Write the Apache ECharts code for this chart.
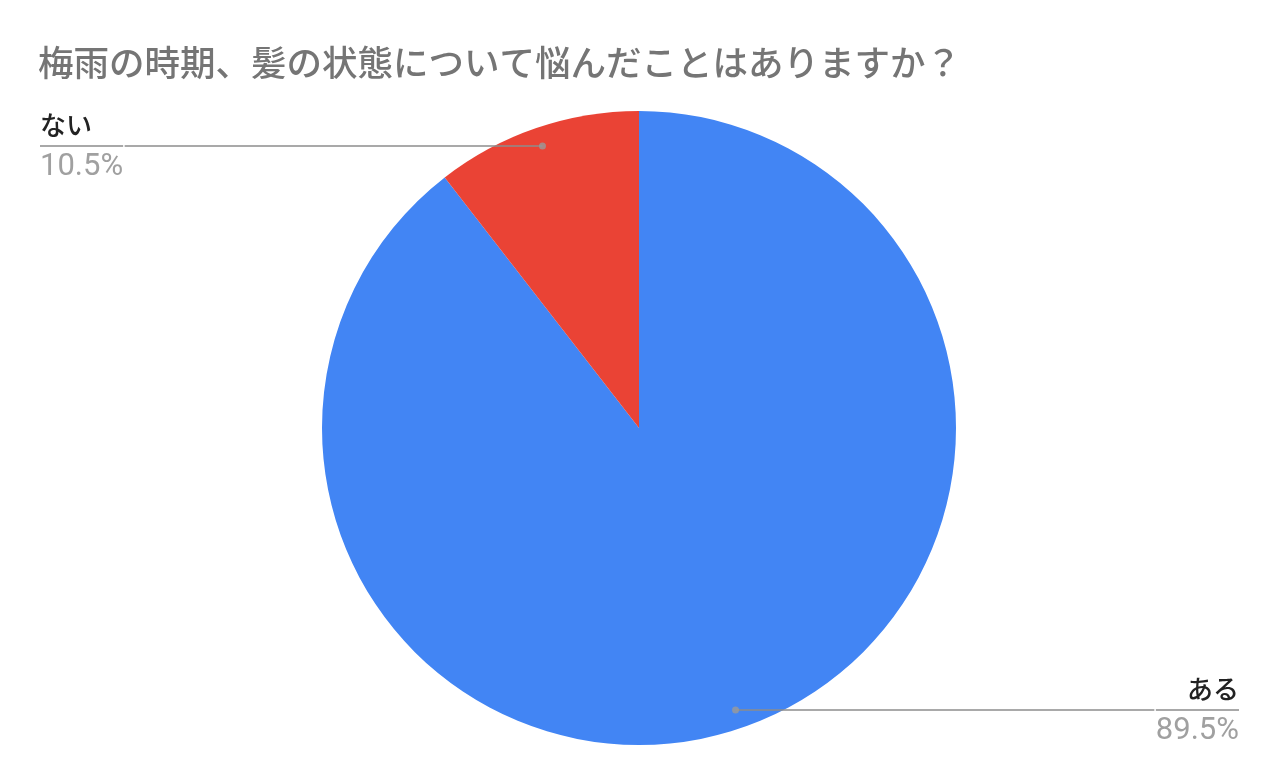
<!DOCTYPE html>
<html>
<head>
<meta charset="utf-8">
<script src="https://cdn.jsdelivr.net/npm/echarts@6/dist/echarts.min.js"></script>
<style>
  html, body { margin: 0; padding: 0; background: #fff; }
  #pie { width: 1279px; height: 784px; }
</style>
</head>
<body>
<div id="pie"></div>
<script>
// answers and their share (%)
const categories = ['ある', 'ない'];
const shares = [89.5, 10.5];
const sliceColors = ['#4285f4', '#ea4335'];

var chartDom = document.getElementById('pie');
var myChart = echarts.init(chartDom);
var option;

const pieCenter = [639, 428];
const pieRadius = 317;
const lineStart = 298; // leader lines start a bit inside the slice

const pieData = categories.map(function (name, i) {
  return { name: name, value: shares[i], itemStyle: { color: sliceColors[i] } };
});

// middle of each slice, in percent of the circle, for the little dots
const total = shares.reduce(function (a, b) { return a + b; }, 0);
let acc = 0;
const dotData = shares.map(function (v) {
  const mid = (acc + v / 2) / total * 100;
  acc += v;
  return [lineStart / pieRadius, mid];
});

option = {
  title: {
    text: '梅雨の時期、髪の状態について悩んだことはありますか？',
    left: 33,
    top: 40,
    textStyle: {
      fontFamily: 'Noto Sans CJK JP',
      fontSize: 35.5,
      fontWeight: 500,
      color: '#757575'
    }
  },
  polar: {
    center: pieCenter,
    radius: pieRadius
  },
  angleAxis: {
    type: 'value',
    min: 0,
    max: 100,
    startAngle: 90,
    clockwise: true,
    show: false
  },
  radiusAxis: {
    type: 'value',
    min: 0,
    max: 1,
    show: false
  },
  series: [
    {
      name: 'slices',
      type: 'pie',
      center: pieCenter,
      radius: pieRadius,
      startAngle: 90,
      silent: true,
      label: { show: false },
      labelLine: { show: false },
      data: pieData
    },
    {
      name: 'labels',
      type: 'pie',
      center: pieCenter,
      radius: lineStart,
      startAngle: 90,
      silent: true,
      z: 3,
      itemStyle: { color: 'rgba(0,0,0,0)' },
      label: {
        show: true,
        position: 'outside',
        alignTo: 'edge',
        edgeDistance: 40,
        distanceToLabelLine: 0,
        formatter: function (p) {
          return '{name|' + p.name + '}\n{hr|}\n{per|' + p.value + '%}';
        },
        rich: {
          name: {
            fontFamily: 'Noto Sans CJK JP',
            fontSize: 26,
            fontWeight: 500,
            color: '#222222',
            lineHeight: 42
          },
          hr: {
            width: '100%',
            height: 0,
            borderColor: '#8c8c8c',
            borderWidth: 1.5
          },
          per: {
            fontFamily: 'Roboto',
            fontSize: 31,
            color: '#a0a0a0',
            lineHeight: 42
          }
        }
      },
      labelLine: {
        show: true,
        length: 0,
        length2: 20,
        lineStyle: { color: '#8c8c8c', width: 1.5 }
      },
      data: pieData.map(function (d) {
        return { name: d.name, value: d.value };
      })
    },
    {
      name: 'dots',
      type: 'scatter',
      coordinateSystem: 'polar',
      symbolSize: 7,
      silent: true,
      z: 4,
      itemStyle: { color: '#9a9a9a' },
      data: dotData
    }
  ]
};

if (option && typeof option === 'object') {
  myChart.setOption(option);
}

window.onresize = function () {
  myChart.resize();
};
</script>
</body>
</html>
